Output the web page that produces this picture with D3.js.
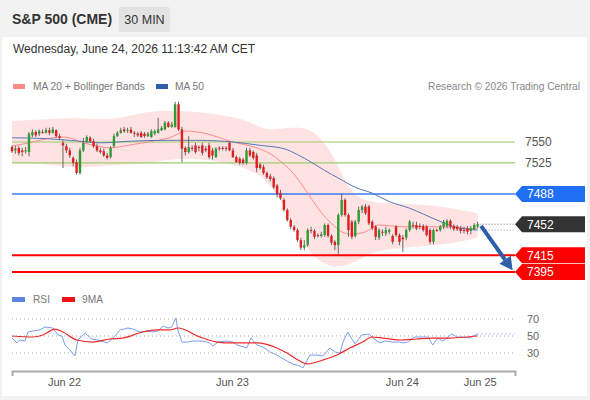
<!DOCTYPE html>
<html lang="en">
<head>
<meta charset="UTF-8">
<title>S&amp;P 500 (CME) 30 MIN</title>
<script src="https://d3js.org/d3.v7.min.js"></script>
<style>
  body { margin: 0; font-family: "Liberation Sans", Arial, sans-serif; }
  svg text { font-family: "Liberation Sans", Arial, sans-serif; }
</style>
</head>
<body>
<div id="chart"></div>
<script>
// 30-minute candles, oldest first
const open = [7544,7540,7543,7540,7539,7538,7558,7562,7560,7562,
  7561,7564,7561,7564,7557,7549,7545,7540,7531,7526,
  7513,7540,7550,7555,7551,7545,7540,7539,7534,7532,
  7545,7557,7561,7565,7563,7565,7561,7560,7561,7560,
  7557,7556,7560,7561,7564,7565,7573,7568,7568,7595,
  7565,7543,7538,7543,7546,7544,7546,7542,7546,7540,
  7532,7543,7543,7543,7549,7540,7532,7530,7529,7525,
  7540,7538,7534,7523,7520,7513,7509,7507,7498,7489,
  7481,7469,7457,7449,7445,7433,7424,7427,7445,7444,
  7439,7438,7439,7451,7438,7431,7427,7463,7481,7463,
  7455,7438,7455,7469,7473,7473,7455,7449,7436,7443,
  7441,7443,7438,7449,7439,7436,7436,7445,7451,7451,
  7450,7450,7449,7445,7431,7445,7445,7449,7450,7456,
  7450,7449,7447,7445,7447,7444,7446,7449];
const high = [7546,7545,7545,7543,7544,7562,7565,7564,7565,7565,
  7567,7567,7568,7565,7560,7552,7548,7543,7533,7529,
  7543,7555,7558,7557,7554,7548,7543,7542,7537,7545,
  7560,7563,7567,7568,7567,7568,7563,7562,7563,7562,
  7562,7565,7565,7579,7569,7575,7575,7574,7598,7598,
  7568,7545,7557,7546,7549,7546,7549,7545,7549,7543,
  7544,7545,7545,7545,7551,7543,7534,7532,7531,7543,
  7543,7540,7537,7525,7523,7515,7512,7509,7500,7493,
  7483,7471,7459,7451,7447,7436,7433,7447,7449,7446,
  7441,7443,7453,7453,7440,7433,7465,7489,7483,7465,
  7457,7457,7473,7475,7476,7475,7457,7451,7447,7446,
  7449,7447,7440,7451,7441,7439,7447,7457,7455,7455,
  7453,7452,7451,7447,7447,7447,7451,7457,7458,7458,
  7452,7451,7450,7449,7450,7450,7453,7455];
const low = [7537,7536,7534,7533,7536,7533,7556,7556,7557,7560,
  7560,7558,7560,7555,7552,7519,7537,7531,7521,7511,
  7511,7538,7549,7549,7543,7538,7536,7532,7529,7530,
  7543,7556,7560,7561,7561,7560,7556,7556,7555,7555,
  7556,7555,7558,7560,7563,7564,7567,7567,7567,7563,
  7526,7534,7536,7539,7536,7539,7534,7538,7530,7529,
  7531,7539,7540,7539,7539,7531,7525,7523,7523,7523,
  7532,7529,7514,7517,7511,7506,7503,7494,7484,7481,
  7467,7455,7446,7443,7431,7421,7421,7425,7441,7434,
  7436,7436,7437,7436,7427,7421,7415,7461,7461,7437,
  7434,7436,7452,7465,7463,7451,7445,7433,7433,7438,
  7438,7440,7428,7437,7427,7419,7433,7443,7447,7445,
  7446,7443,7437,7428,7428,7443,7443,7446,7447,7446,
  7444,7444,7441,7441,7440,7440,7445,7447];
const close = [7539,7542,7537,7538,7540,7560,7562,7558,7563,7561,
  7564,7561,7565,7557,7555,7546,7540,7534,7525,7513,
  7540,7549,7556,7551,7545,7540,7538,7534,7531,7543,
  7557,7561,7564,7563,7564,7561,7560,7558,7556,7557,
  7560,7563,7563,7565,7567,7573,7568,7571,7595,7565,
  7542,7538,7544,7542,7538,7543,7537,7540,7532,7534,
  7542,7542,7542,7542,7540,7532,7526,7525,7525,7540,
  7534,7531,7519,7519,7513,7508,7506,7496,7488,7483,
  7469,7457,7449,7445,7433,7424,7427,7445,7444,7437,
  7438,7440,7451,7438,7430,7427,7463,7481,7463,7445,
  7437,7455,7469,7473,7465,7453,7447,7437,7445,7442,
  7445,7445,7431,7439,7431,7434,7445,7455,7450,7447,
  7449,7445,7439,7431,7445,7444,7449,7455,7456,7449,
  7446,7446,7444,7444,7443,7447,7451,7452];

// indicators: [candle index, value]
const ma20 = [[0,7545],[5,7549],[12,7555],[15,7556],[22,7548],[29,7543],[34,7546],[40,7550],
  [47,7556],[51,7563],[56,7561],[65,7550],[72,7543],[76,7536],[79,7527],[82,7516],[85,7501],
  [88,7483],[91,7466],[94,7453],[97,7443],[100,7440],[104,7443],[108,7451],[115,7449],[125,7449],[137,7446]];
const ma50 = [[0,7555],[10,7554],[20,7551],[26,7549],[35,7551],[45,7552],[55,7552],[65,7550],
  [73,7546],[80,7542],[84,7535],[88,7526],[92,7516],[96,7507],[101,7496],[106,7489],[111,7479],
  [117,7471],[125,7457],[130,7449],[137,7445]];
const bandAt = [0,10,20,30,38,45,55,65,70,75,80,85,90,95,99,103,108,115,125,132,137];
const bandUpper = [7575,7577,7579,7576,7585,7588,7586,7580,7574,7563,7567,7568,7561,7531,7493,7481,7477,7477,7474,7469,7465];
const bandLower = [7525,7524,7518,7523,7523,7529,7531,7523,7517,7505,7475,7433,7407,7400,7403,7412,7421,7424,7427,7431,7436];

const rsi = [[0,47.6],[1.5,41.8],[2.4,45.3],[3.8,44.1],[4.7,54.7],[6.2,55.9],[8.2,57.1],[9.7,60.6],[12,59.4],
  [13.5,51.2],[14.7,50],[15.6,39.4],[17,33.5],[18.5,26.5],[19.4,45.3],[21.5,53.5],[23.5,46.5],[25.3,45.3],
  [28,41.8],[29.7,47.6],[31.8,57.1],[34.1,59.4],[35.6,58.2],[37.6,54.7],[39.7,55.9],[41.5,54.7],[43,55.9],
  [44.4,61.8],[45.9,59.4],[47,60.6],[48.2,71.2],[48.8,57.1],[50,42.9],[51.8,42.9],[53.2,44.1],[56.2,44.1],
  [58.2,41.8],[59.1,38.2],[60.6,42.9],[63.2,44.1],[65,42.9],[66.2,39.4],[69.1,35.9],[70.3,47.6],[72.1,39.4],
  [73.8,37.1],[75.9,31.2],[77.9,27.6],[80.9,20.6],[82.6,17.1],[84.7,14.7],[85.6,12.4],[87.6,27.6],[89.7,27.6],
  [91.5,26.5],[93.5,35.9],[95,31.2],[96.5,30],[97.4,42.9],[98.8,54.7],[100.9,40.6],[102.9,51.2],[105,52.4],
  [106.2,47.6],[108.2,41.8],[109.7,44.1],[112,42.9],[114,42.9],[115,41.8],[116.5,42.9],[118.5,48.8],
  [120.9,48.8],[122.4,48.8],[123.8,39.4],[125.3,47.6],[126.8,44.1],[129.4,52.4],[130.9,48.8],[132.6,48.8],
  [134.7,47.6],[137,52.4]];
const rsiMa9 = [[0,50],[6.2,48.8],[9.1,51.2],[12.6,58.2],[15,54.7],[19.1,45.3],[23.8,42.9],[28.8,46.5],
  [32.6,47.6],[38.5,54.7],[42.6,57.1],[46.5,57.1],[48.8,59.4],[55.3,48.8],[60.3,42.9],[65,41.8],[72,41.8],
  [77.9,35.9],[80.9,30],[84.7,20.6],[86.8,17.1],[91.5,21.8],[95.6,27.6],[99.4,35.9],[103.2,42.9],
  [105.9,48.8],[109.1,47.6],[114.1,45.3],[119.1,46.5],[123.8,47.6],[128.8,47.6],[133.8,48.8],[137,50]];
const rsiLevels = [30, 50, 70];

const dateLabels = ["Jun 22", "Jun 23", "Jun 24", "Jun 25"];
const dateAt = [15.3, 64.7, 114.7, 137.6];

const resistances = [7550, 7525];
const pivot = 7488;
const lastPrice = 7452;
const supports = [7415, 7395];
const arrowFrom = [138, 7450];
const arrowTo = [147.3, 7397];

const W = 590, H = 400;
const svg = d3.select("#chart").append("svg")
  .attr("width", W).attr("height", H);

// frame
svg.append("rect").attr("width", W).attr("height", H).attr("fill", "#f2f2f2");
svg.append("rect").attr("x", 2).attr("y", 37).attr("width", 585).attr("height", 359).attr("fill", "#fff");

// header
svg.append("text").attr("x", 12).attr("y", 24)
  .attr("font-size", 14).attr("font-weight", "bold").attr("fill", "#333")
  .text("S&P 500 (CME)");
svg.append("rect").attr("x", 119).attr("y", 7).attr("width", 51).attr("height", 25)
  .attr("rx", 2).attr("fill", "#e3e3e3");
svg.append("text").attr("x", 144.5).attr("y", 24).attr("text-anchor", "middle")
  .attr("font-size", 12.5).attr("fill", "#333").text("30 MIN");
svg.append("text").attr("x", 13).attr("y", 53)
  .attr("font-size", 12).attr("fill", "#333")
  .text("Wednesday, June 24, 2026 11:13:42 AM CET");

// legends
const legend = svg.append("g").attr("font-size", 10.2).attr("fill", "#777");
legend.append("rect").attr("x", 13).attr("y", 84).attr("width", 12).attr("height", 5).attr("fill", "#ff8a8a");
legend.append("text").attr("x", 33).attr("y", 90).text("MA 20 + Bollinger Bands");
legend.append("rect").attr("x", 156).attr("y", 84).attr("width", 12).attr("height", 5).attr("fill", "#2f5fa7");
legend.append("text").attr("x", 175).attr("y", 90).text("MA 50");
legend.append("text").attr("x", 580).attr("y", 90).attr("text-anchor", "end").attr("fill", "#888")
  .text("Research \u00a9 2026 Trading Central");
legend.append("rect").attr("x", 12).attr("y", 297).attr("width", 13).attr("height", 5).attr("fill", "#5b86e5");
legend.append("text").attr("x", 33).attr("y", 303).text("RSI");
legend.append("rect").attr("x", 62).attr("y", 297).attr("width", 13).attr("height", 5).attr("fill", "#ee1111");
legend.append("text").attr("x", 82).attr("y", 303).text("9MA");

// scales
const x = d3.scaleLinear().domain([0, 148]).range([12, 515]);
const y = d3.scaleLinear().domain([7395, 7550]).range([272, 142]);
const yR = d3.scaleLinear().domain([30, 70]).range([353, 319]);

// bollinger band
const band = bandAt.map((d, i) => ({i: d, up: bandUpper[i], lo: bandLower[i]}));
svg.append("path").datum(band)
  .attr("fill", "#ffe3e3")
  .attr("d", d3.area().x(d => x(d.i)).y0(d => y(d.lo)).y1(d => y(d.up)).curve(d3.curveBasis));

// level lines
const levels = svg.append("g");
resistances.forEach(v => {
  levels.append("line").attr("x1", 12).attr("x2", 515).attr("y1", y(v)).attr("y2", y(v))
    .attr("stroke", "#9ccc6e").attr("stroke-width", 1.2);
  levels.append("text").attr("x", 525).attr("y", y(v)).attr("dy", "0.35em")
    .attr("font-size", 12).attr("fill", "#555").text(v);
});
levels.append("line").attr("x1", 12).attr("x2", 515).attr("y1", y(pivot)).attr("y2", y(pivot))
  .attr("stroke", "#3d7bf0").attr("stroke-width", 1.3);
supports.forEach(v => {
  levels.append("line").attr("x1", 12).attr("x2", 515).attr("y1", y(v)).attr("y2", y(v))
    .attr("stroke", "#f00").attr("stroke-width", 2);
});

// moving averages
const line = d3.line().x(d => x(d[0])).y(d => y(d[1])).curve(d3.curveMonotoneX);
svg.append("path").datum(ma20).attr("fill", "none").attr("stroke", "#ff8c8c").attr("stroke-width", 1).attr("d", line);
svg.append("path").datum(ma50).attr("fill", "none").attr("stroke", "#5677b8").attr("stroke-width", 1).attr("d", line);

// candles
const candles = d3.range(close.length).map(i => ({i, o: open[i], h: high[i], l: low[i], c: close[i]}));
const cg = svg.append("g");
cg.selectAll("line").data(candles).join("line")
  .attr("x1", d => x(d.i)).attr("x2", d => x(d.i))
  .attr("y1", d => y(d.h)).attr("y2", d => y(d.l))
  .attr("stroke", "#666").attr("stroke-width", 1);
cg.selectAll("rect").data(candles).join("rect")
  .attr("x", d => x(d.i) - 1.2).attr("width", 2.4)
  .attr("y", d => y(Math.max(d.o, d.c)))
  .attr("height", d => Math.max(1, Math.abs(y(d.o) - y(d.c))))
  .attr("fill", d => d.c >= d.o ? "#2e9a36" : "#dd1f1f");

// projection from last price
const last = close.length - 1;
svg.append("line").attr("x1", x(last) + 2).attr("x2", x(148)).attr("y1", y(lastPrice)).attr("y2", y(lastPrice))
  .attr("stroke", "#666").attr("stroke-dasharray", "1,2");
svg.append("line").attr("x1", x(last) + 2).attr("x2", x(148))
  .attr("y1", y(ma50[ma50.length - 1][1])).attr("y2", y(ma50[ma50.length - 1][1]))
  .attr("stroke", "#8aa0cc").attr("stroke-dasharray", "1,2");

// arrow
const ax1 = x(arrowFrom[0]), ay1 = y(arrowFrom[1]);
const ax2 = x(arrowTo[0]), ay2 = y(arrowTo[1]);
const ang = Math.atan2(ay2 - ay1, ax2 - ax1);
const headL = 13, headW = 7;
const bx = ax2 - headL * Math.cos(ang), by = ay2 - headL * Math.sin(ang);
svg.append("line").attr("x1", ax1).attr("y1", ay1).attr("x2", bx).attr("y2", by)
  .attr("stroke", "#2d5ea6").attr("stroke-width", 4);
svg.append("path").attr("fill", "#2d5ea6")
  .attr("d", `M${ax2},${ay2}L${bx + headW * Math.sin(ang)},${by - headW * Math.cos(ang)}L${bx - headW * Math.sin(ang)},${by + headW * Math.cos(ang)}Z`);

// price tags
const tags = [{v: pivot, c: "#1f6ff5"}, {v: lastPrice, c: "#333"}]
  .concat(supports.map(v => ({v, c: "#f00"})));
const tg = svg.append("g");
tags.forEach(t => {
  const yc = y(t.v), x0 = 515;
  tg.append("path").attr("fill", t.c)
    .attr("d", `M${x0},${yc}L${x0 + 7},${yc - 8}H585V${yc + 8}H${x0 + 7}Z`);
  tg.append("text").attr("x", 527).attr("y", yc).attr("dy", "0.36em")
    .attr("font-size", 12).attr("fill", "#fff").text(t.v);
});

// RSI panel
const rg = svg.append("g");
rsiLevels.forEach(v => {
  rg.append("line").attr("x1", 12).attr("x2", 515).attr("y1", yR(v)).attr("y2", yR(v))
    .attr("stroke", "#aaa").attr("stroke-dasharray", "1,3");
  rg.append("text").attr("x", 527).attr("y", yR(v)).attr("dy", "0.35em")
    .attr("font-size", 11).attr("fill", "#666").text(v);
});
const rline = d3.line().x(d => x(d[0])).y(d => yR(d[1]));
rg.append("path").datum(rsi).attr("fill", "none").attr("stroke", "#7b9ef0").attr("stroke-width", 1).attr("d", rline);
rg.append("path").datum(rsiMa9).attr("fill", "none").attr("stroke", "#f02828").attr("stroke-width", 1.2)
  .attr("d", rline.curve(d3.curveMonotoneX));
rg.append("line").attr("x1", x(rsi[rsi.length - 1][0])).attr("x2", x(148))
  .attr("y1", yR(rsi[rsi.length - 1][1])).attr("y2", yR(rsi[rsi.length - 1][1]))
  .attr("stroke", "#7b9ef0").attr("stroke-dasharray", "1,3");

// time axis
const xAxis = svg.append("g").attr("transform", "translate(0,371)")
  .call(d3.axisBottom(x).tickValues(dateAt).tickFormat((d, i) => dateLabels[i])
    .tickSizeInner(0).tickSizeOuter(5).tickPadding(7));
xAxis.select(".domain").attr("stroke", "#aaa").attr("stroke-width", 2);
xAxis.selectAll("text").attr("font-size", 11).attr("fill", "#555")
  .attr("font-family", "Liberation Sans, Arial, sans-serif");
</script>
</body>
</html>
